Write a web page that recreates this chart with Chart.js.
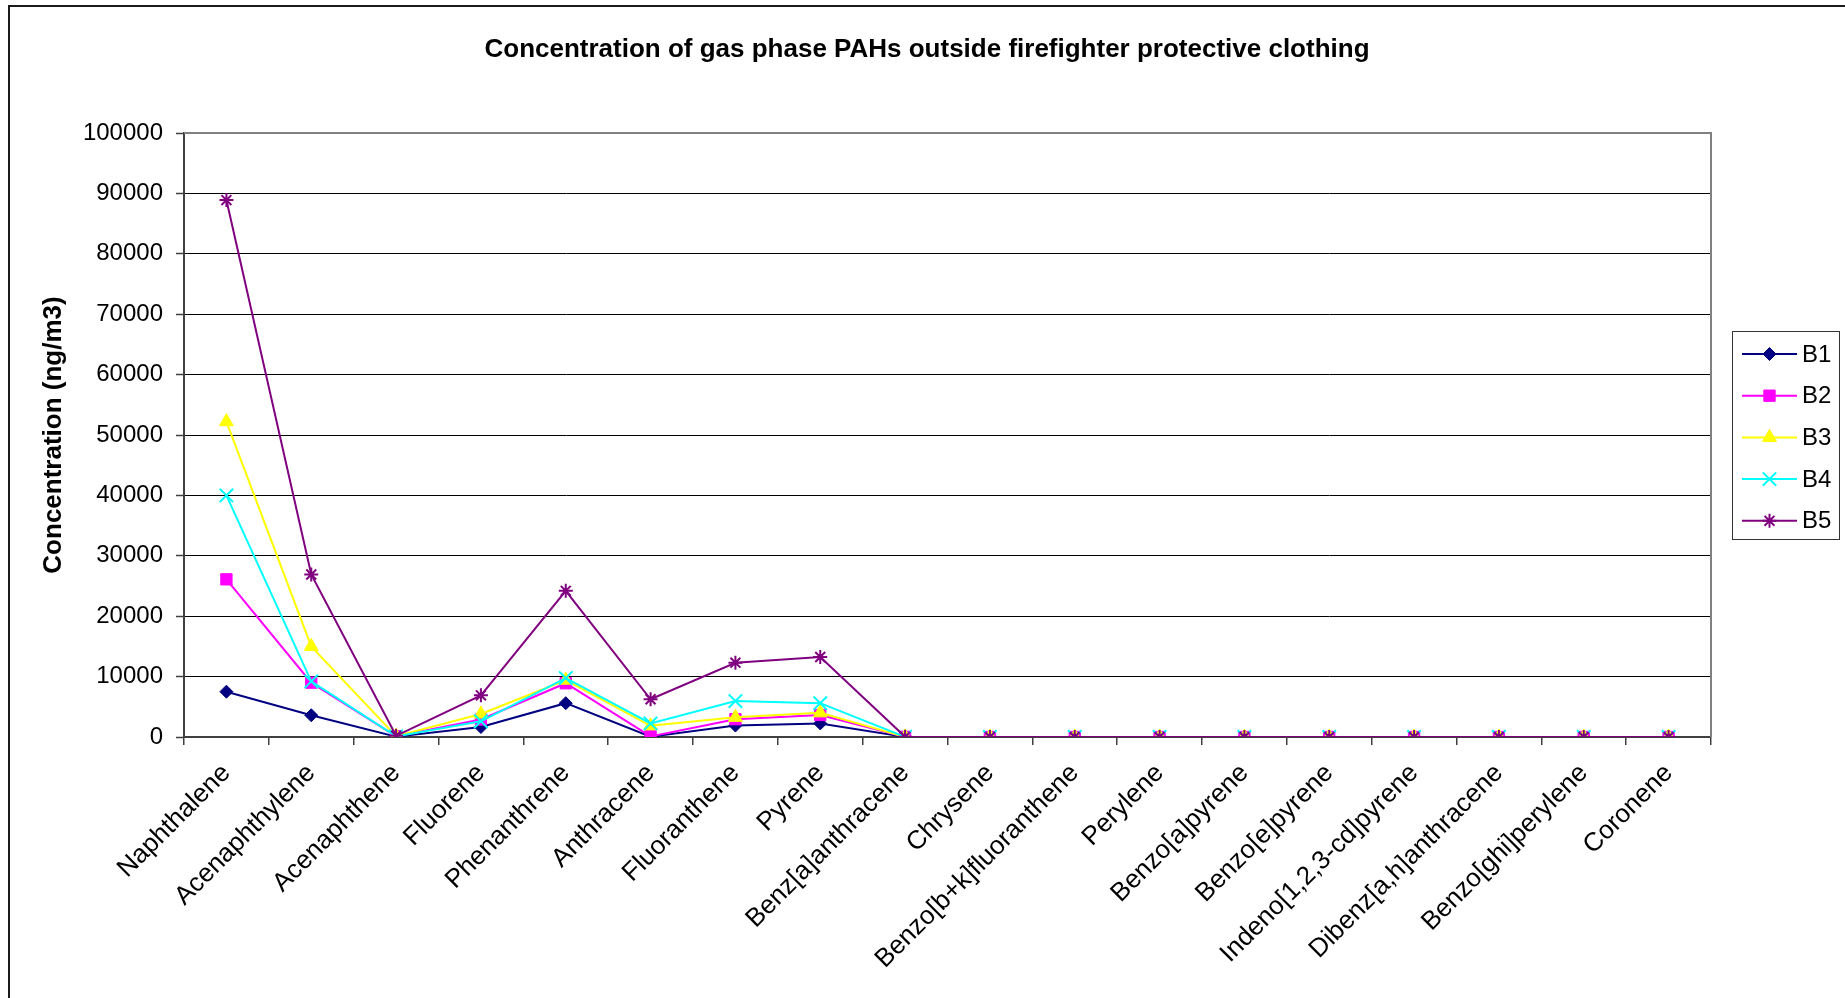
<!DOCTYPE html>
<html>
<head>
<meta charset="utf-8">
<title>Concentration of gas phase PAHs outside firefighter protective clothing</title>
<script src="https://cdn.jsdelivr.net/npm/chart.js@4/dist/chart.umd.min.js"></script>
<style>
  html, body { margin: 0; padding: 0; background: #ffffff; }
  #wrap { width: 1845px; height: 998px; position: relative; }
</style>
</head>
<body>
<div id="wrap"><canvas id="chart" width="1845" height="998"></canvas></div>
<script>
// Compounds measured (x-axis categories)
const categories = [
  'Naphthalene', 'Acenaphthylene', 'Acenaphthene', 'Fluorene', 'Phenanthrene',
  'Anthracene', 'Fluoranthene', 'Pyrene', 'Benz[a]anthracene', 'Chrysene',
  'Benzo[b+k]fluoranthene', 'Perylene', 'Benzo[a]pyrene', 'Benzo[e]pyrene',
  'Indeno[1,2,3-cd]pyrene', 'Dibenz[a,h]anthracene', 'Benzo[ghi]perylene', 'Coronene'
];

// Concentrations (ng/m3) for each sample
const B1 = [7500, 3600, 60, 1650, 5600, 50, 1900, 2250, 20, 0, 0, 0, 0, 0, 0, 0, 0, 0];
const B2 = [26100, 9000, 120, 2900, 8900, 100, 2950, 3650, 20, 0, 0, 0, 0, 0, 0, 0, 0, 0];
const B3 = [52200, 15000, 150, 3800, 9400, 1850, 3250, 4000, 20, 0, 0, 0, 0, 0, 0, 0, 0, 0];
const B4 = [40000, 9200, 100, 2600, 9750, 2250, 5950, 5600, 20, 0, 0, 0, 0, 0, 0, 0, 0, 0];
const B5 = [88900, 26900, 200, 6900, 24200, 6250, 12300, 13250, 30, 0, 0, 0, 0, 0, 0, 0, 0, 0];

const seriesNames = ['B1', 'B2', 'B3', 'B4', 'B5'];
const seriesValues = [B1, B2, B3, B4, B5];

// Value axis ticks
const yMin = 0;
const yMax = 100000;
const yStep = 10000;

const titleText = 'Concentration of gas phase PAHs outside firefighter protective clothing';
const yAxisTitle = 'Concentration (ng/m3)';

const FONT = '"Liberation Sans", Arial, Helvetica, sans-serif';

const seriesStyles = [
  { color: '#000080', pointStyle: 'rectRot',  radius: 6.5, pointBorder: 1 },
  { color: '#FF00FF', pointStyle: 'rect',     radius: 8,   pointBorder: 1 },
  { color: '#FFFF00', pointStyle: 'triangle', radius: 8,   pointBorder: 1 },
  { color: '#00FFFF', pointStyle: 'crossRot', radius: 9.5, pointBorder: 2 },
  { color: '#800080', pointStyle: 'star',     radius: 7,   pointBorder: 2 }
];

const datasets = seriesNames.map((name, i) => {
  const s = seriesStyles[i];
  return {
    label: name,
    data: seriesValues[i],
    borderColor: s.color,
    backgroundColor: s.color,
    borderWidth: 2,
    pointStyle: s.pointStyle,
    pointRadius: s.radius,
    pointHoverRadius: s.radius,
    pointBackgroundColor: s.color,
    pointBorderColor: s.color,
    pointBorderWidth: s.pointBorder,
    tension: 0,
    fill: false,
    order: seriesNames.length - i
  };
});

// Outer frame, title and plot-area border
const framePlugin = {
  id: 'frame',
  beforeDraw(chart) {
    const { ctx, width, height } = chart;
    ctx.save();
    ctx.fillStyle = '#ffffff';
    ctx.fillRect(0, 0, width, height);
    ctx.strokeStyle = '#1a1a1a';
    ctx.lineWidth = 2;
    ctx.beginPath();
    ctx.moveTo(9, height + 2);
    ctx.lineTo(9, 6);
    ctx.lineTo(width + 2, 6);
    ctx.stroke();
    ctx.fillStyle = '#000000';
    ctx.font = 'bold 26px ' + FONT;
    ctx.textAlign = 'center';
    ctx.textBaseline = 'middle';
    ctx.fillText(titleText, (9 + width) / 2, 50);
    ctx.restore();
  },
  beforeDatasetsDraw(chart) {
    const { ctx, chartArea: a } = chart;
    ctx.save();
    ctx.strokeStyle = '#808080';
    ctx.lineWidth = 2;
    ctx.beginPath();
    ctx.moveTo(a.left, a.top);
    ctx.lineTo(a.right, a.top);
    ctx.lineTo(a.right, a.bottom);
    ctx.stroke();
    ctx.restore();
  }
};

// Boxed legend with a line and marker for each series
const legendPlugin = {
  id: 'boxLegend',
  afterDraw(chart) {
    const { ctx, chartArea: a } = chart;
    const boxX = a.right + 21.5, boxY = 331.5, boxW = 107, boxH = 208;
    ctx.save();
    ctx.strokeStyle = '#333333';
    ctx.lineWidth = 1;
    ctx.strokeRect(boxX, boxY, boxW, boxH);
    chart.data.datasets.forEach((ds, i) => {
      const y = 354 + i * 41.7;
      const x0 = boxX + 9.5, x1 = boxX + 64.5, xm = (x0 + x1) / 2;
      ctx.strokeStyle = ds.borderColor;
      ctx.lineWidth = 2;
      ctx.beginPath();
      ctx.moveTo(x0, y);
      ctx.lineTo(x1, y);
      ctx.stroke();
      ctx.fillStyle = ds.pointBackgroundColor;
      ctx.strokeStyle = ds.pointBorderColor;
      ctx.lineWidth = ds.pointBorderWidth;
      Chart.helpers.drawPoint(ctx, {
        pointStyle: ds.pointStyle,
        radius: ds.pointRadius,
        rotation: 0,
        borderWidth: ds.pointBorderWidth
      }, xm, y);
      ctx.fillStyle = '#000000';
      ctx.font = '24px ' + FONT;
      ctx.textAlign = 'left';
      ctx.textBaseline = 'middle';
      ctx.fillText(ds.label, x1 + 5, y + 1);
    });
    ctx.restore();
  }
};

new Chart(document.getElementById('chart'), {
  type: 'line',
  data: { labels: categories, datasets },
  plugins: [framePlugin, legendPlugin],
  options: {
    responsive: false,
    animation: false,
    devicePixelRatio: 1,
    layout: { padding: { top: 133, right: 134, bottom: 0, left: 0 } },
    plugins: {
      legend: { display: false },
      title: { display: false },
      tooltip: { enabled: false }
    },
    scales: {
      x: {
        type: 'category',
        offset: true,
        afterFit(scale) { scale.height = 261; },
        grid: {
          display: true,
          offset: true,
          drawOnChartArea: false,
          drawTicks: true,
          tickLength: 8,
          color: '#404040',
          lineWidth: 1.5
        },
        border: { display: true, color: '#404040', width: 2 },
        ticks: {
          autoSkip: false,
          maxRotation: 45,
          minRotation: 45,
          padding: 13,
          color: '#000000',
          font: { family: FONT, size: 26 }
        }
      },
      y: {
        min: yMin,
        max: yMax,
        afterFit(scale) { scale.width = 184; },
        grid: {
          color: (c) => (c.tick && c.tick.value === yMax ? 'rgba(0,0,0,0)' : '#000000'),
          lineWidth: 1,
          drawTicks: true,
          tickLength: 8,
          tickColor: '#404040',
          tickWidth: 1.5
        },
        border: { display: true, color: '#404040', width: 2 },
        ticks: {
          stepSize: yStep,
          padding: 13,
          color: '#000000',
          font: { family: FONT, size: 24 },
          callback: (v) => String(v)
        },
        title: {
          display: true,
          text: yAxisTitle,
          color: '#000000',
          font: { family: FONT, size: 26, weight: 'bold' },
          padding: { top: 38, bottom: 0 }
        }
      }
    }
  }
});
</script>
</body>
</html>
